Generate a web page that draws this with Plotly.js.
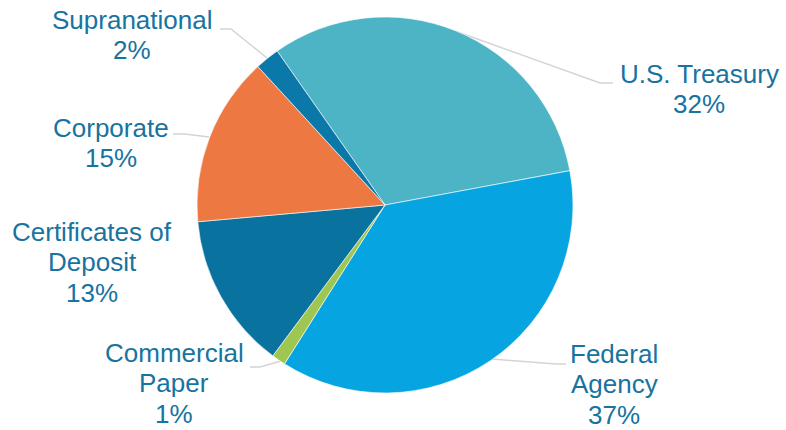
<!DOCTYPE html>
<html>
<head>
<meta charset="utf-8">
<script src="https://cdn.plot.ly/plotly-3.0.1.min.js"></script>
<style>
  html, body { margin: 0; padding: 0; background: #ffffff; }
  #chart { width: 786px; height: 430px; }
</style>
</head>
<body>
<div id="chart"></div>
<script>
// ---- Data ----
const categories = ["U.S. Treasury", "Federal Agency", "Commercial Paper", "Certificates of Deposit", "Corporate", "Supranational"];
const displayLabels = ["U.S. Treasury", "Federal<br>Agency", "Commercial<br>Paper", "Certificates of<br>Deposit", "Corporate", "Supranational"];
const shares = [31.8, 36.9, 1.2, 13.4, 14.6, 2.1];
const sliceColors = ["#4cb4c4", "#07a4e2", "#9ec650", "#0a729f", "#ee7842", "#0a79aa"];

// ---- Layout helpers (pixel -> paper) ----
const W = 786, H = 430;
const px = (x) => x / W;
const py = (y) => 1 - y / H;

const cx = 385, cy = 205, R = 188;

// label block centres (pixels) and leader lines (pixels)
const labelPos = [
  [699, 89], [614, 384], [174, 383], [92, 262], [111, 143], [132, 35]
];
const leaderPaths = [
  [[455, 31], [600, 83], [613, 83]],
  [[492, 359], [556, 364], [566, 364]],
  [[281, 361], [260, 367], [250, 367]],
  null,
  [[209, 137], [185, 134], [173, 134]],
  [[267, 58], [231, 29], [220, 29]]
];

const total = shares.reduce((a, b) => a + b, 0);
const textColor = "#17739f";
const fontSize = 26;
const lineGap = 30.5;

const annotations = [];
categories.forEach((c, i) => {
  const pct = Math.round(shares[i] / total * 100) + "%";
  const lines = displayLabels[i].split("<br>").concat([pct]);
  const n = lines.length;
  lines.forEach((t, k) => {
    const y = labelPos[i][1] + (k - (n - 1) / 2) * lineGap;
    annotations.push({
      xref: "paper", yref: "paper",
      x: px(labelPos[i][0]), y: py(y),
      xanchor: "center", yanchor: "middle",
      text: t, showarrow: false, borderpad: 0,
      font: { family: "Liberation Sans, Arial, sans-serif", size: fontSize, color: textColor }
    });
  });
});

const shapes = [];
leaderPaths.forEach((p) => {
  if (!p) return;
  const d = p.map((pt, j) => (j === 0 ? "M" : "L") + px(pt[0]) + "," + py(pt[1])).join(" ");
  shapes.push({
    type: "path", xref: "paper", yref: "paper", path: d,
    line: { color: "#d4d4d4", width: 1.5 }, layer: "below"
  });
});

const trace = {
  type: "pie",
  labels: categories,
  values: shares,
  sort: false,
  direction: "clockwise",
  rotation: -35,
  textinfo: "none",
  hoverinfo: "label+percent",
  marker: { colors: sliceColors, line: { color: "#ffffff", width: 0.6 } },
  domain: { x: [px(cx - R), px(cx + R)], y: [py(cy + R), py(cy - R)] },
  showlegend: false
};

const layout = {
  width: W, height: H,
  margin: { l: 0, r: 0, t: 0, b: 0 },
  paper_bgcolor: "#ffffff",
  plot_bgcolor: "#ffffff",
  showlegend: false,
  annotations: annotations,
  shapes: shapes
};

Plotly.newPlot("chart", [trace], layout, { displayModeBar: false, staticPlot: true });
</script>
</body>
</html>
